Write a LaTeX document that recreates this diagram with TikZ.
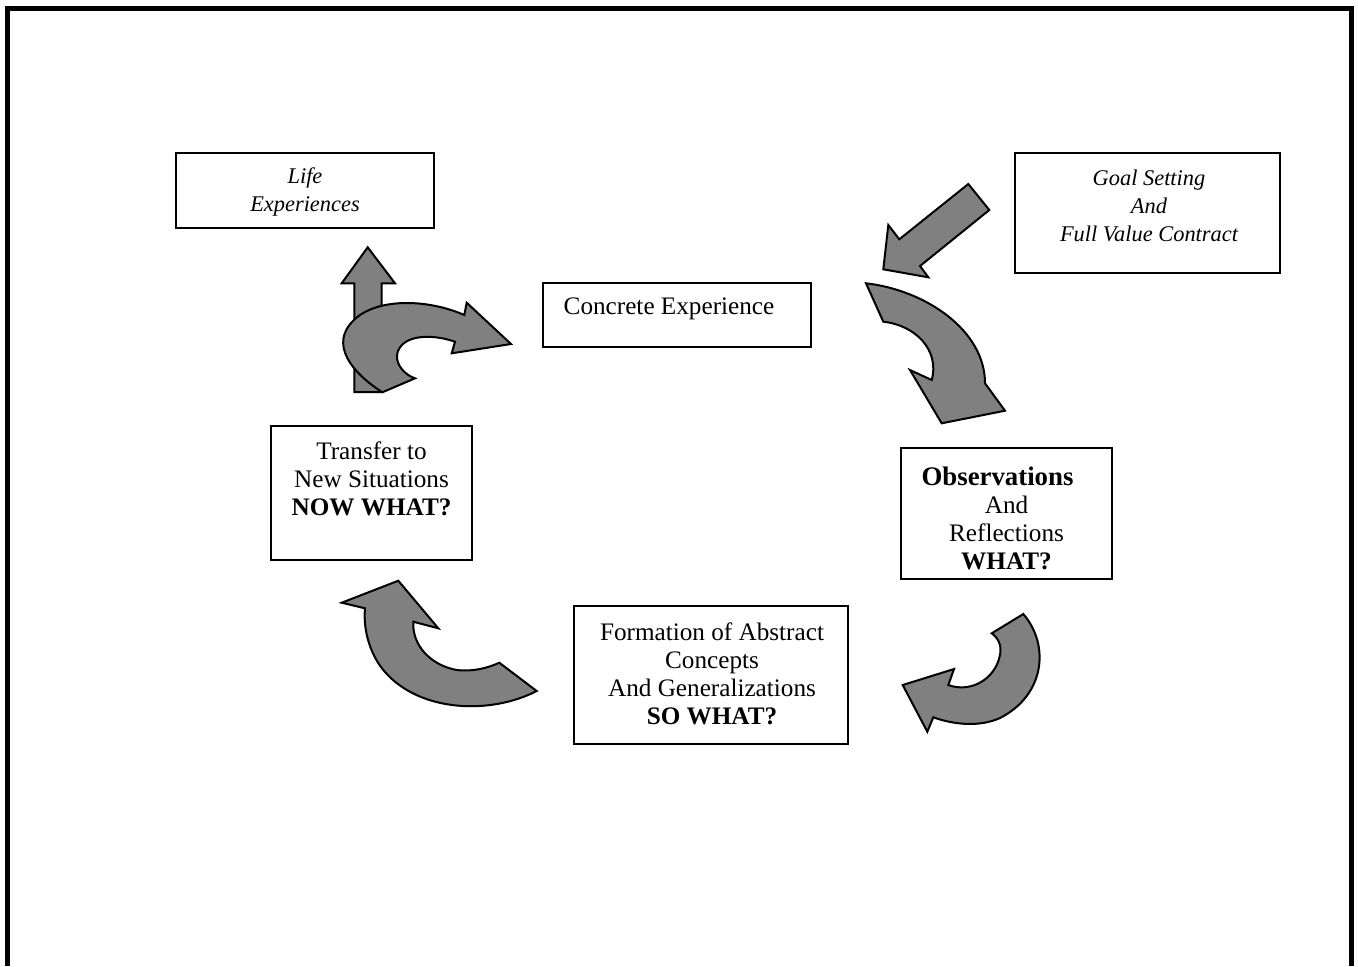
\documentclass[tikz,border=0pt]{standalone}
\usepackage{fontspec}
\setmainfont{Liberation Serif}
\definecolor{arrowgray}{HTML}{808080}
\begin{document}
\begin{tikzpicture}[x=0.5pt,y=-0.5pt]
  \tikzset{box/.style={draw, line width=1pt, inner sep=0pt},
           boxtext/.style={align=center, inner sep=0pt,
                           font=\fontsize{12.6}{14}\selectfont},
           italictext/.style={boxtext, font=\fontsize{11.2}{14}\selectfont\itshape},
           blockarrow/.style={draw, line width=1pt, fill=arrowgray,
                              line join=miter}}
  \useasboundingbox (0,0) rectangle (1358,966);
  \draw[line width=2.5pt] (7.5,966) -- (7.5,8.5) -- (1351.8,8.5) -- (1351.8,966);
  \node[box, minimum width=129pt,   minimum height=37.5pt] (life)     at (305,190.5)   {};
  \node[box, minimum width=132.5pt, minimum height=60pt]   (goal)     at (1147.5,213)  {};
  \node[box, minimum width=134pt,   minimum height=32pt]   (concrete) at (677,315)     {};
  \node[box, minimum width=100.5pt, minimum height=67pt]   (transfer) at (371.5,493)   {};
  \node[box, minimum width=105.5pt, minimum height=65.5pt] (observe)  at (1006.5,513.5){};
  \node[box, minimum width=137pt,   minimum height=69pt]   (abstract) at (711,675)     {};
  \node[italictext] (lifetxt)  at (305,192)    {Life\\Experiences};
  \node[italictext] (goaltxt)  at (1149,206)   {Goal Setting\\And\\Full Value Contract};
  \node[boxtext] (concretetxt) at (669,309)    {Concrete Experience};
  \node[boxtext] (transfertxt) at (371.5,479)  {Transfer to\\New Situations\\\textbf{NOW WHAT?}};
  \node[boxtext] (observetxt)  at (1006.5,518) {{\fontsize{13.4}{14}\selectfont\textbf{Observations}}\hspace*{9pt}\\And\\Reflections\\\textbf{WHAT?}};
  \node[boxtext] (abstracttxt) at (712,673.5)  {Formation of Abstract\\Concepts\\And Generalizations\\\textbf{SO WHAT?}};
  \draw[blockarrow] (354.3,392) -- (354.3,283.3) -- (341.7,283.3) -- (367.7,247.3)
    -- (395,283.3) -- (381.7,283.3) -- (381.7,392) -- cycle;
  \draw[blockarrow] (382.3,392.3) .. controls (345,368) and (328,338) .. (360,315)
    .. controls (385,298) and (430,300) .. (464.3,315) -- (466.7,302.7) -- (511,344)
    -- (451.7,353.3) -- (455,341.7) .. controls (430,333) and (400,335) .. (397,355)
    .. controls (396,365) and (405,375) .. (415,378.3) -- cycle;
  \draw[blockarrow] (968.3,184) -- (899.3,239.3) -- (888.3,225) -- (883.3,269.3)
    -- (928.3,277.3) -- (920,266) -- (989.3,210) -- cycle;
  \draw[blockarrow] (866,283.3) .. controls (925,290) and (985,330) .. (985,383.3)
    -- (1005,410.7) -- (941.7,423.3) -- (910,370) -- (931.7,380)
    .. controls (940,350) and (915,325) .. (883.3,321.7) -- cycle;
  \draw[blockarrow] (1023.3,614) .. controls (1050,645) and (1045,695) .. (1000,718)
    .. controls (980,727) and (955,725) .. (933.3,717.3) -- (927.3,731.7)
    -- (902.7,685) -- (954,669) -- (948.3,685) .. controls (970,693) and (995,680) .. (1000,655)
    .. controls (1002,645) and (998,638) .. (991.7,633.3) -- cycle;
  \draw[blockarrow] (536.7,691) .. controls (490,715) and (420,712) .. (385,672)
    .. controls (370,655) and (363,630) .. (365,608.3) -- (341.7,602.7) -- (398.3,580.7)
    -- (438.3,628.3) -- (413.3,621.7) .. controls (412,645) and (430,665) .. (456.7,670)
    .. controls (472,672) and (488,668) .. (499.3,662.7) -- cycle;
\end{tikzpicture}
\end{document}
